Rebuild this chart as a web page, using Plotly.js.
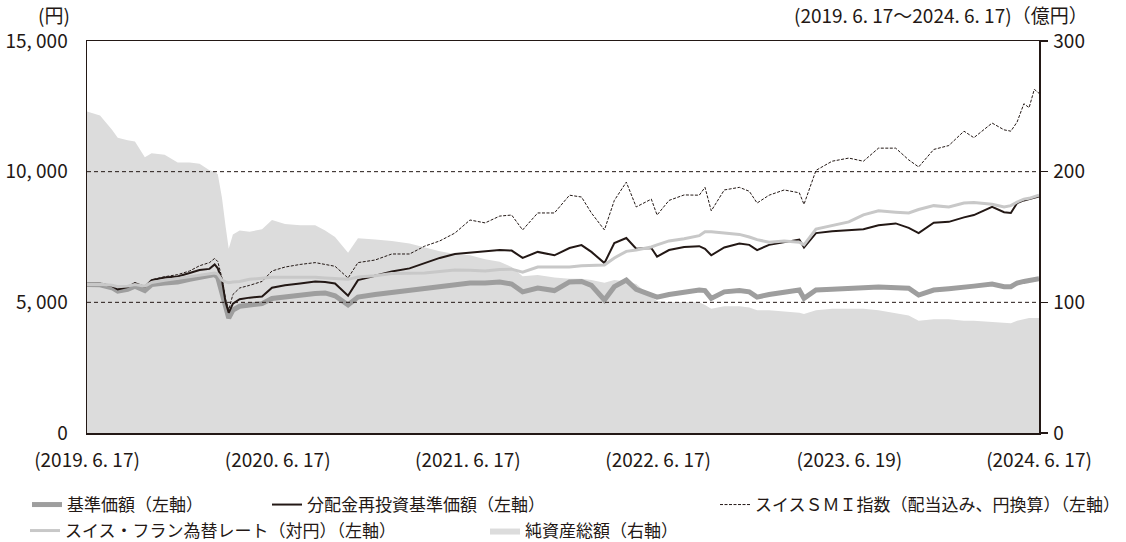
<!DOCTYPE html>
<html><head><meta charset="utf-8">
<script src="https://cdn.plot.ly/plotly-3.0.1.min.js"></script>
<style>html,body{margin:0;padding:0;background:#fff}#chart{width:1126px;height:542px}</style>
</head><body><div id="chart"></div>
<script>
const dates = ["2019-06-17","2019-07-12","2019-08-04","2019-08-15","2019-09-03","2019-09-17","2019-10-06","2019-10-19","2019-11-13","2019-12-08","2019-12-31","2020-01-19","2020-02-07","2020-02-17","2020-02-23","2020-03-02","2020-03-09","2020-03-15","2020-03-23","2020-04-05","2020-04-24","2020-05-18","2020-06-06","2020-07-01","2020-07-30","2020-08-28","2020-09-16","2020-10-05","2020-10-30","2020-11-18","2020-12-21","2021-01-22","2021-02-25","2021-03-26","2021-04-24","2021-05-23","2021-06-21","2021-07-20","2021-08-17","2021-09-09","2021-09-30","2021-10-29","2021-11-30","2021-12-29","2022-01-21","2022-02-09","2022-03-06","2022-03-25","2022-04-17","2022-05-06","2022-06-04","2022-06-15","2022-07-08","2022-08-06","2022-09-04","2022-09-15","2022-09-27","2022-10-22","2022-11-20","2022-12-09","2022-12-24","2023-01-16","2023-02-14","2023-03-15","2023-03-24","2023-04-16","2023-05-17","2023-06-18","2023-07-16","2023-08-14","2023-09-16","2023-10-11","2023-10-30","2023-11-28","2023-12-27","2024-01-25","2024-02-13","2024-03-19","2024-04-11","2024-04-24","2024-05-06","2024-05-19","2024-05-29","2024-06-08","2024-06-17"];
const basePrice = [5680,5670,5560,5430,5500,5620,5450,5680,5740,5780,5880,5960,6020,6060,5950,5400,4750,4400,4700,4850,4900,4950,5150,5220,5280,5340,5360,5250,4900,5200,5300,5380,5480,5550,5620,5700,5740,5740,5780,5700,5400,5550,5450,5780,5800,5650,5090,5600,5850,5500,5300,5200,5300,5380,5470,5450,5150,5400,5450,5400,5200,5300,5380,5470,5150,5470,5500,5550,5560,5590,5570,5540,5280,5470,5520,5600,5620,5700,5600,5600,5740,5800,5830,5880,5900];
const reinvestPrice = [5700,5710,5620,5490,5580,5740,5590,5850,5950,5990,6120,6240,6280,6450,6300,5850,5000,4600,4950,5120,5180,5220,5560,5650,5720,5800,5780,5720,5250,5850,6020,6180,6300,6500,6700,6850,6900,6930,7000,6980,6700,6930,6800,7080,7190,6930,6500,7270,7460,7050,7080,6750,7000,7120,7150,7050,6800,7100,7250,7200,7000,7200,7300,7400,7100,7650,7720,7770,7800,7950,8020,7850,7650,8050,8080,8250,8340,8650,8450,8420,8800,8900,8950,9000,9050];
const smiIndex = [5700,5720,5640,5520,5600,5740,5590,5860,5980,6060,6200,6400,6520,6680,6560,5930,5100,4710,5300,5550,5650,5800,6200,6350,6450,6520,6450,6380,5930,6520,6620,6850,6850,7150,7350,7650,8150,8040,8300,8340,7770,8420,8420,9100,9030,8420,7770,8900,9600,8650,8950,8340,8900,9110,9100,9400,8500,9300,9400,9250,8800,9100,9300,9190,8750,10050,10400,10520,10400,10900,10900,10450,10180,10850,11000,11550,11300,11860,11600,11550,11900,12600,12450,13150,13000];
const chfJpy = [5680,5690,5650,5600,5620,5680,5620,5760,5840,5920,5990,6050,6100,6120,6080,5850,5780,5750,5780,5800,5880,5930,5960,5960,5970,5960,5930,5900,5880,5970,6020,6100,6120,6120,6180,6240,6230,6200,6260,6270,6150,6350,6350,6350,6400,6420,6430,6700,6950,7000,7120,7200,7350,7430,7550,7700,7700,7650,7600,7500,7400,7300,7350,7300,7200,7800,7950,8080,8350,8500,8450,8420,8550,8700,8650,8800,8820,8750,8650,8700,8840,8950,8980,9050,9100];
const netAssets = [246,243,232,226,224,223,211,214,213,207,207,206,201,200,198,180,158,141,152,155,154,156,163,160,159,159,155,150,138,149,148,147,145,142,139,137,136,133,131,127,120,121,119,118,118,117,115,117,116,114,104,101,100,100,100,98,95,97,97,96,94,94,93,92,91,94,95,95,95,94,92,90,86,87,87,86,86,85,84,84,86,87,88,88,88];

const leftTickVals = [0,5000,10000,15000];
const leftTickText = ["0","5, 000","10, 000","15, 000"];
const rightTickVals = [0,100,200,300];
const xTickVals = ["2019-06-17","2020-06-17","2021-06-17","2022-06-17","2023-06-19","2024-06-17"];
const xTickText = ["(2019. 6. 17)","(2020. 6. 17)","(2021. 6. 17)","(2022. 6. 17)","(2023. 6. 19)","(2024. 6. 17)"];
const names = ["基準価額（左軸）","分配金再投資基準価額（左軸）","スイスＳＭＩ指数（配当込み、円換算）（左軸）","スイス・フラン為替レート（対円）（左軸）","純資産総額（右軸）"];

const FONT = '"Noto Sans CJK JP", "Noto Sans", sans-serif';
const INK = '#231815';
const TF = {family:FONT, size:19, color:INK};
const LF = {family:FONT, size:17, color:INK};

const traces = [
  {x: dates, y: netAssets, type:'scatter', mode:'lines', yaxis:'y', fill:'tozeroy',
   fillcolor:'#dcdcdc', line:{width:0, color:'#dcdcdc'}, name:names[4], legend:'legend5'},
  {x: dates, y: basePrice, type:'scatter', mode:'lines', yaxis:'y2',
   line:{width:5, color:'#9e9e9e'}, name:names[0], legend:'legend'},
  {x: dates, y: reinvestPrice, type:'scatter', mode:'lines', yaxis:'y2',
   line:{width:2, color:INK}, name:names[1], legend:'legend2'},
  {x: dates, y: smiIndex, type:'scatter', mode:'lines', yaxis:'y2',
   line:{width:1, color:INK, dash:'3px,1.5px'}, name:names[2], legend:'legend3'},
  {x: dates, y: chfJpy, type:'scatter', mode:'lines', yaxis:'y2',
   line:{width:3, color:'#c8c8c8'}, name:names[3], legend:'legend4'}
];

function lg(xpx, ypx){
  return {x:(xpx-87)/952, y:(433-ypx)/392, xanchor:'left', yanchor:'middle', orientation:'h',
    bgcolor:'rgba(0,0,0,0)', borderwidth:0, font:LF, tracegroupgap:0};
}

const layout = {
  width:1126, height:542,
  margin:{l:87, r:87, t:41, b:109, autoexpand:false},
  paper_bgcolor:'#fff', plot_bgcolor:'#fff',
  font:TF,
  showlegend:true,
  xaxis:{type:'date', range:['2019-06-17','2024-06-17'], tickvals:xTickVals, ticktext:xTickText,
    showgrid:false, zeroline:false, showline:true, linecolor:INK, linewidth:1.5, mirror:true,
    ticks:'', ticklabelstandoff:10, tickfont:TF},
  yaxis:{range:[0,300], side:'right', tickvals:rightTickVals, showgrid:false, zeroline:false,
    showline:true, linecolor:INK, linewidth:1.5, ticks:'outside', ticklen:7, tickcolor:INK, tickwidth:1.5,
    ticklabelstandoff:2, tickfont:TF},
  yaxis2:{range:[0,15000], overlaying:'y', side:'left', tickvals:leftTickVals, ticktext:leftTickText,
    showgrid:false, zeroline:false, showline:true, linecolor:INK, linewidth:1.5, ticks:'',
    ticklabelstandoff:14, tickfont:TF},
  shapes:[5000,10000].map(v=>({type:'line', xref:'paper', x0:0, x1:1, yref:'y2', y0:v, y1:v,
    layer:'above', line:{color:INK, width:1, dash:'4px,3px'}})),
  annotations:[
    {text:'(円)', xref:'paper', yref:'paper', x:(72-87)/952, y:(433-15)/392, xanchor:'right', yanchor:'middle',
     showarrow:false, font:TF},
    {text:'(2019. 6. 17～2024. 6. 17)（億円）', xref:'paper', yref:'paper', x:(1090-87)/952, y:(433-15)/392,
     xanchor:'right', yanchor:'middle', showarrow:false, font:TF}
  ],
  legend: lg(27,505),
  legend2: lg(267,505),
  legend3: lg(715,505),
  legend4: lg(25,531),
  legend5: lg(485,531)
};

Plotly.newPlot('chart', traces, layout, {staticPlot:true, displayModeBar:false});
</script>
</body></html>
